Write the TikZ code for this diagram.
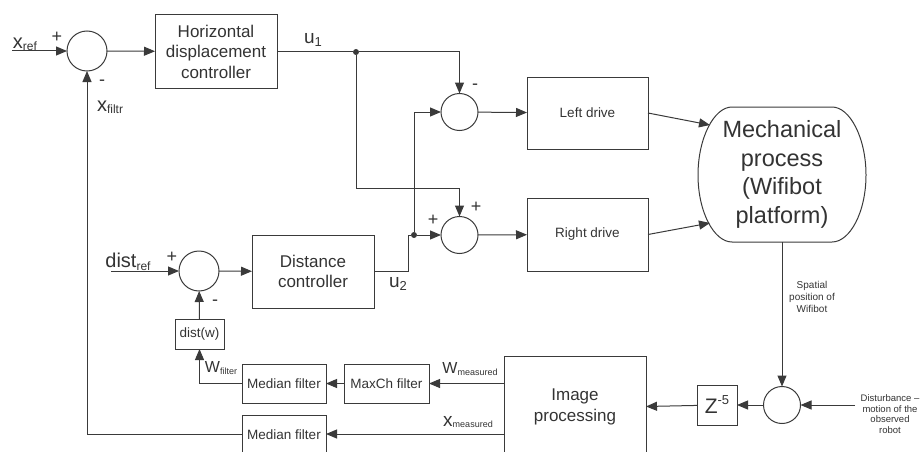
\documentclass[tikz,border=0pt]{standalone}
\usepackage{fontspec}
\setmainfont{Liberation Sans}
\usetikzlibrary{arrows.meta,calc}
\definecolor{ink}{HTML}{333333}
\definecolor{ln}{HTML}{3A3A3A}
\newcommand{\fsz}[1]{\fontsize{#1}{#1}\selectfont}
\newcommand{\lbl}[4]{{\fsz{#3}#1}{\fsz{#4}\raisebox{-0.2em}{#2}}}
\begin{document}
\begin{tikzpicture}[x=1pt,y=-1pt,
  every node/.style={text=ink, inner sep=0pt, outer sep=0pt},
  box/.style={draw=ln, line width=1pt, align=center},
  sumj/.style={draw=ln, line width=1pt, circle, minimum size=#1},
  wire/.style={draw=ln, line width=1pt},
  arr/.style={draw=ln, line width=1pt, -{Triangle[length=11pt,width=9pt]}},
  dot/.style={circle, fill=ln, minimum size=6pt},
  sgn/.style={font=\fsz{18}},
]
\useasboundingbox (0,0) rectangle (923,452);

% summing junctions
\node[sumj=40pt] (s1) at (87,51) {};
\node[sumj=37pt] (sL) at (459.5,112) {};
\node[sumj=37pt] (sR) at (459.5,235) {};
\node[sumj=40pt] (s2) at (199,271) {};
\node[sumj=37pt] (s3) at (782,405) {};

% blocks
\node[box, minimum width=122pt, minimum height=73pt, font=\fontsize{17}{20.5}\selectfont] (hdc) at (216,51.5) {Horizontal\\displacement\\controller};
\node[box, minimum width=121pt, minimum height=72pt, font=\fsz{13.5}] (ld) at (587.5,113) {Left drive};
\node[box, minimum width=121pt, minimum height=73pt, font=\fsz{13.5}] (rd) at (587.5,234.5) {Right drive};
\node[box, minimum width=122pt, minimum height=73pt, font=\fontsize{17}{20}\selectfont] (dc) at (313,271.5) {Distance\\controller};
\node[box, minimum width=49pt, minimum height=30pt, font=\fsz{13.5}] (dw) at (199.5,334) {dist(w)};
\node[box, minimum width=84pt, minimum height=39pt, font=\fsz{13.5}] (mf1) at (284,383.5) {Median filter};
\node[box, minimum width=85pt, minimum height=39pt, font=\fsz{13.5}] (mc) at (386.5,383.5) {MaxCh filter};
\node[box, minimum width=84pt, minimum height=39pt, font=\fsz{13.5}] (mf2) at (284,434.5) {Median filter};
\node[box, minimum width=142pt, minimum height=101pt, font=\fontsize{17}{21}\selectfont] (ip) at (575,406.5) {Image\\processing};
\node[box, minimum width=40pt, minimum height=40pt] (z) at (717,405) {{\fsz{21}Z}{\fsz{13}\raisebox{9pt}{-5}}};

% mechanical process
\node[minimum width=168pt, minimum height=135pt, align=center, font=\fontsize{23.5}{28.5}\selectfont] (mech) at (782,174.5) {Mechanical\\process\\(Wifibot\\platform)};
\draw[wire] (732,107) -- (832,107) .. controls (850,107) and (866,138) .. (866,175)
  .. controls (866,212) and (850,242) .. (832,242) -- (732,242)
  .. controls (714,242) and (698,212) .. (698,175)
  .. controls (698,138) and (714,107) .. (732,107) -- cycle;
\coordinate (mA) at (710,125);
\coordinate (mB) at (710,223);

% junction dots and helper coordinates
\node[dot] (j1) at (356,52) {};
\node[dot] (j2) at (414,235) {};
\coordinate (xr) at (12,51);
\coordinate (dr) at (111,271);
\coordinate (c1) at (459.5,188);
\coordinate (c2) at (408,235);
\coordinate (dd) at (855,405);

% connectors
\draw[arr] (xr) -- (s1);
\draw[arr] (s1) -- (hdc);
\draw[wire] (hdc.east |- j1) -- (j1);
\draw[arr] (j1) -| (sL);
\draw[arr] (j1) |- (c1) -- (sR);
\draw[wire] (dc.east) -| (c2) -- (j2);
\draw[arr] (j2) -- (sR);
\draw[arr] (j2) |- (sL);
\draw[arr] (sL) -- (ld);
\draw[arr] (sR) -- (rd);
\draw[arr] (ld.east) -- (mA);
\draw[arr] (rd.east) -- (mB);
\draw[arr] (mech.south) -- (s3);
\draw[arr] (dd) -- (s3);
\draw[arr] (s3) -- (z);
\draw[arr] (z) -- (ip.west -| ip.east);
\draw[arr] (ip.west |- mc.east) -- (mc.east);
\draw[arr] (mc) -- (mf1);
\draw[arr] (mf1.west) -| (dw.south);
\draw[arr] (dw) -- (s2);
\draw[arr] (dr) -- (s2);
\draw[arr] (s2) -- (dc);
\draw[arr] (ip.west |- 0,434) -- (mf2.east |- 0,434);
\draw[arr] (mf2.west |- 0,434) -| (s1.south);

% labels
\node (lxref) at (25,44) {\lbl{x}{ref}{20}{12}};
\node[sgn] (p1) at (57,37) {+};
\node[sgn] (m1) at (102,83) {-};
\node (lxf) at (110,107) {\lbl{x}{filtr}{20}{12}};
\node (lu1) at (313,40) {\lbl{u}{1}{19}{13}};
\node[sgn] (m2) at (475,87) {-};
\node[sgn] (p2) at (476,207) {+};
\node[sgn] (p3) at (433,220) {+};
\node (ldr) at (128,262) {\lbl{dist}{ref}{20}{12}};
\node[sgn] (p4) at (172,257) {+};
\node[sgn] (m3) at (215,303) {-};
\node (lu2) at (398,284) {\lbl{u}{2}{19}{13}};
\node (lwf) at (221,368) {\lbl{W}{filter}{16}{9}};
\node (lwm) at (470,369) {\lbl{W}{measured}{16}{9}};
\node (lxm) at (468,422) {\lbl{x}{measured}{19}{9}};
\node[align=center, font=\fontsize{10}{12}\selectfont] (lsp) at (812,297) {Spatial\\position of\\Wifibot};
\node[align=center, font=\fontsize{9.5}{10.7}\selectfont] (ldist) at (890,414) {Disturbance --\\motion of the\\observed\\robot};
\end{tikzpicture}
\end{document}
